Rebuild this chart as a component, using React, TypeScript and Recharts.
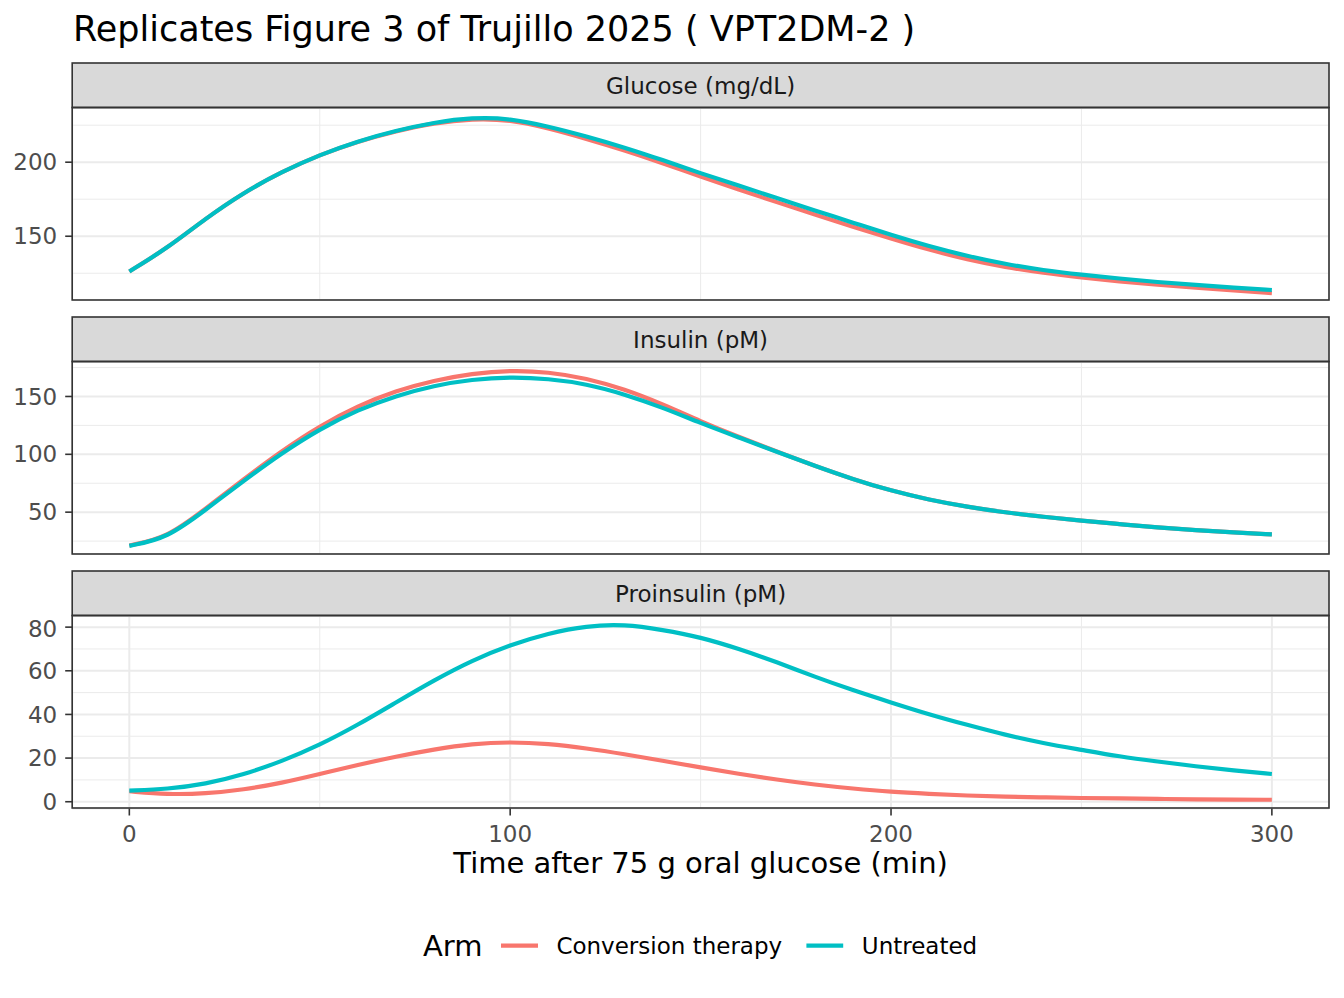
import React from "react";
import { LineChart, Line, XAxis, YAxis, CartesianGrid, ReferenceLine } from "recharts";

// minutes after the 75 g load
const TIME = [0, 10, 20, 30, 40, 50, 60, 70, 80, 90, 100, 110, 120, 130, 140, 150, 160, 170, 180, 190, 200, 210, 220, 230, 240, 250, 260, 270, 280, 290, 300];

const GLUCOSE_CONV = [126.2, 142, 162, 179.5, 193.5, 205, 214, 221, 226.5, 229.4, 228.7, 223, 215.8, 208, 199.4, 190.3, 181.6, 173, 164.6, 156.4, 148.4, 140.8, 134.3, 129.1, 125.2, 122.2, 119.5, 117.2, 115.2, 113.3, 111.6];
const GLUCOSE_UNTR = [126.2, 142, 162, 179.5, 193.5, 205, 214.2, 221.3, 226.8, 230.2, 229.6, 224.2, 217.5, 210, 201.5, 192.5, 184.2, 175.8, 167.4, 159.2, 150.8, 143.2, 136.6, 131.2, 127, 124, 121.4, 119, 117.1, 115.3, 113.7];

const INSULIN_CONV = [21.2, 28, 53, 78.5, 103, 124.6, 141.9, 154.9, 163.8, 169.8, 172.6, 171.2, 165.8, 156.3, 143.4, 128.5, 115, 102.4, 90, 78.5, 68.5, 60.7, 54.6, 49.7, 46, 42.5, 39.7, 36.8, 34.5, 32.5, 30.8];
const INSULIN_UNTR = [20.9, 27.5, 52, 77, 101, 121.8, 138.5, 150.6, 159.5, 164.8, 166.9, 165.4, 160.9, 152, 140.5, 127, 114.6, 102.2, 90, 78.5, 68.5, 60.7, 54.6, 49.7, 46, 42.5, 39.7, 36.8, 34.5, 32.5, 30.8];

const PROINS_CONV = [4.8, 3.3, 3.7, 5.5, 8.6, 12.7, 16.9, 20.7, 24, 26.6, 27.4, 26.6, 24.5, 21.8, 18.8, 15.7, 12.8, 10.1, 7.8, 6, 4.5, 3.6, 2.8, 2.3, 2, 1.7, 1.5, 1.3, 1.1, 1, 0.9];
const PROINS_UNTR = [5.1, 5.8, 8.1, 12.4, 18.5, 26, 35.2, 45.5, 55.7, 64.8, 71.9, 77.2, 80.6, 81.3, 78.8, 75.4, 70.1, 64, 57.2, 51.1, 45.5, 40, 35.2, 30.6, 26.8, 23.8, 20.7, 18.4, 16.2, 14.3, 12.7];

const X_TICKS = [0, 100, 200, 300];
const X_MINOR = [50, 150, 250];

const FACETS = ["Glucose (mg/dL)", "Insulin (pM)", "Proinsulin (pM)"];
const ARMS = ["Conversion therapy", "Untreated"];

const RED = "#F8766D";
const TEAL = "#00BFC4";
const GRID = "#EBEBEB";
const DARK = "#333333";
const FONT = "'DejaVu Sans', Verdana, sans-serif";

const PLOT_L = 72.2;
const PLOT_R = 1329;
const PLOT_H = 192.5;
const STRIP_H = 44.5;

const panels = [
  { label: FACETS[0], top: 107.5, domain: [106.6, 236.6], ticks: [150, 200], minor: [125, 175, 225], conv: GLUCOSE_CONV, untr: GLUCOSE_UNTR },
  { label: FACETS[1], top: 361.5, domain: [13.4, 179.8], ticks: [50, 100, 150], minor: [25, 75, 125, 175], conv: INSULIN_CONV, untr: INSULIN_UNTR },
  { label: FACETS[2], top: 615.5, domain: [-3.1, 85.1], ticks: [0, 20, 40, 60, 80], minor: [10, 30, 50, 70], conv: PROINS_CONV, untr: PROINS_UNTR },
];

function Panel({ p, bottom }: { p: (typeof panels)[number]; bottom: boolean }) {
  const rows = TIME.map((t, i) => ({ t, conv: p.conv[i], untr: p.untr[i] }));
  const axisH = bottom ? 60 : 0;
  return (
    <div style={{ position: "absolute", left: 0, top: p.top }}>
      <LineChart width={1344} height={PLOT_H + axisH} data={rows} margin={{ top: 0, right: 1344 - PLOT_R, left: 0, bottom: 0 }}>
        <CartesianGrid stroke={GRID} strokeWidth={2} />
        {p.minor.map((v) => <ReferenceLine key={"y" + v} y={v} stroke={GRID} strokeWidth={1} />)}
        {X_MINOR.map((v) => <ReferenceLine key={"x" + v} x={v} stroke={GRID} strokeWidth={1} />)}
        <XAxis
          dataKey="t" type="number" domain={[-15, 315]} allowDataOverflow ticks={X_TICKS}
          height={axisH} axisLine={false}
          tick={bottom ? { fill: "#4D4D4D", fontSize: 23 } : false}
          tickLine={bottom ? { stroke: DARK, strokeWidth: 1.6 } : false}
          tickSize={7} tickMargin={10}
        />
        <YAxis
          type="number" domain={p.domain} allowDataOverflow ticks={p.ticks} width={PLOT_L}
          axisLine={false} tick={{ fill: "#4D4D4D", fontSize: 23 }}
          tickLine={{ stroke: DARK, strokeWidth: 1.6 }} tickSize={7} tickMargin={8}
        />
        <Line type="basis" dataKey="conv" stroke={RED} strokeWidth={4.2} dot={false} isAnimationActive={false} />
        <Line type="basis" dataKey="untr" stroke={TEAL} strokeWidth={4.2} dot={false} isAnimationActive={false} />
      </LineChart>
    </div>
  );
}

export default function App() {
  const midX = (PLOT_L + PLOT_R) / 2;
  return (
    <div style={{ position: "absolute", left: 0, top: 0, width: 1344, height: 998, background: "#fff", fontFamily: FONT, overflow: "hidden" }}>
      {panels.map((p, i) => <Panel key={p.label} p={p} bottom={i === panels.length - 1} />)}
      <svg width={1344} height={998} style={{ position: "absolute", left: 0, top: 0, pointerEvents: "none" }} fontFamily={FONT}>
        <text x={73} y={41} fontSize={35} fill="#000">Replicates Figure 3 of Trujillo 2025 ( VPT2DM-2 )</text>
        {panels.map((p) => (
          <g key={p.label}>
            <rect x={PLOT_L} y={p.top - STRIP_H} width={PLOT_R - PLOT_L} height={STRIP_H} fill="#D9D9D9" stroke={DARK} strokeWidth={1.6} />
            <text x={midX} y={p.top - STRIP_H / 2 + 8.4} fontSize={23} fill="#1A1A1A" textAnchor="middle">{p.label}</text>
            <rect x={PLOT_L} y={p.top} width={PLOT_R - PLOT_L} height={PLOT_H} fill="none" stroke={DARK} strokeWidth={1.6} />
          </g>
        ))}
        <text x={midX} y={872.5} fontSize={29} fill="#000" textAnchor="middle">Time after 75 g oral glucose (min)</text>
        <text x={423} y={956} fontSize={29} fill="#000">Arm</text>
        <line x1={501} x2={538} y1={945.7} y2={945.7} stroke={RED} strokeWidth={4.2} />
        <text x={556.4} y={954.3} fontSize={23} fill="#000">{ARMS[0]}</text>
        <line x1={806.4} x2={843.2} y1={945.7} y2={945.7} stroke={TEAL} strokeWidth={4.2} />
        <text x={861.8} y={954.3} fontSize={23} fill="#000">{ARMS[1]}</text>
      </svg>
    </div>
  );
}
